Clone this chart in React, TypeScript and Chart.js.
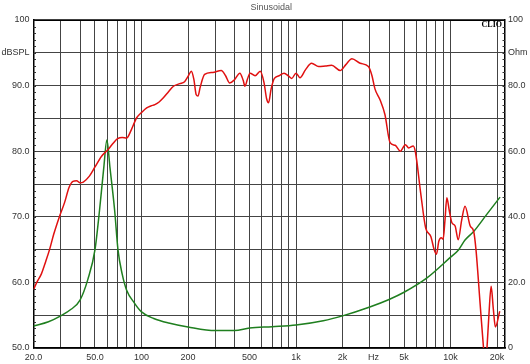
import React, { useEffect, useRef } from 'react';
import { Chart, registerables } from 'chart.js';

Chart.register(...registerables);

// SPL response (red, left axis dBSPL)
const splFreq = [20, 21, 22.5, 24, 25.4, 27, 29.5, 31.8, 34, 36, 38, 40, 42, 46, 50, 55, 61, 66, 70, 75, 80, 86, 93, 100, 108, 115, 122, 130, 138, 150, 161, 177, 190, 200, 210, 218, 226, 232, 240, 256, 289, 328, 350, 372, 400, 433, 455, 467, 485, 504, 543, 587, 620, 645, 664, 690, 724, 776, 836, 900, 938, 1000, 1060, 1150, 1260, 1400, 1550, 1700, 1930, 2100, 2300, 2600, 2940, 3100, 3240, 3500, 3760, 4060, 4380, 4730, 5100, 5360, 5730, 5930, 6400, 6900, 7450, 7830, 8100, 8400, 8700, 8950, 9200, 9460, 9800, 10200, 10700, 11200, 11800, 12400, 13400, 14100, 14600, 15500, 16400, 16800, 17200, 17700, 18300, 18900, 19500, 20800];
const splDb = [58.9, 60.0, 61.3, 63.2, 65.0, 67.3, 70.1, 72.2, 74.5, 75.4, 75.5, 75.2, 75.3, 76.2, 77.6, 79.2, 80.3, 81.3, 81.9, 82.1, 82.0, 83.3, 85.1, 85.9, 86.6, 86.9, 87.1, 87.5, 88.1, 89.1, 89.9, 90.3, 90.6, 91.4, 92.2, 91.0, 88.6, 88.4, 89.8, 91.7, 92.0, 92.3, 91.5, 90.4, 90.9, 91.9, 90.8, 89.9, 91.0, 91.9, 91.5, 92.2, 90.5, 88.0, 87.4, 89.5, 91.1, 91.5, 91.9, 91.4, 91.1, 91.9, 91.2, 92.4, 93.4, 92.9, 93.0, 93.1, 92.3, 93.2, 94.1, 93.4, 92.9, 91.5, 89.5, 87.8, 85.6, 81.3, 80.9, 80.0, 81.0, 80.5, 80.8, 79.8, 73.7, 68.3, 67.0, 65.0, 64.3, 66.3, 66.8, 66.6, 69.5, 72.9, 71.0, 69.1, 68.6, 66.5, 69.5, 71.6, 68.6, 67.8, 65.0, 57.0, 49.5, 47.0, 50.0, 55.0, 59.4, 56.0, 53.2, 55.6];

// Impedance (green, right axis Ohm)
const impFreq = [20, 25, 30, 35, 40, 45, 50, 53.5, 57, 59.7, 62.5, 67, 70.4, 75, 80, 90, 100, 120, 150, 200, 300, 400, 500, 700, 1000, 1500, 2000, 3000, 4000, 5000, 7000, 10000, 11250, 12400, 14100, 17000, 20900];
const impOhm = [6.7, 8.0, 9.8, 11.8, 14.6, 21.0, 30.0, 42.0, 55.0, 63.4, 55.0, 42.0, 30.0, 22.5, 17.7, 13.7, 11.0, 9.0, 7.6, 6.4, 5.3, 5.3, 6.1, 6.5, 7.0, 8.3, 9.8, 12.5, 14.8, 17.0, 21.3, 27.7, 29.9, 32.9, 35.5, 40.5, 46.0];

const xGridValues = [20, 30, 40, 50, 60, 70, 80, 90, 100, 200, 300, 400, 500, 600, 700, 800, 900, 1000, 2000, 3000, 4000, 5000, 6000, 7000, 8000, 9000, 10000, 20000];
const xLabelValues = [20, 50, 100, 200, 500, 1000, 2000, 5000, 10000, 20000];
const xLabelTexts = ['20.0', '50.0', '100', '200', '500', '1k', '2k', '5k', '10k', '20k'];
const hzLabelFreq = 3170;

const leftTickValues = [50, 55, 60, 65, 70, 75, 80, 85, 90, 95, 100];
const leftLabelTexts = ['50.0', '', '60.0', '', '70.0', '', '80.0', '', '90.0', 'dBSPL', '100'];
const rightTickValues = [0, 10, 20, 30, 40, 50, 60, 70, 80, 90, 100];
const rightLabelTexts = ['0', '', '20.0', '', '40.0', '', '60.0', '', '80.0', 'Ohm', '100'];

const FONT = 'Liberation Sans, Arial, sans-serif';

const decorPlugin = {
  id: 'decor',
  afterDraw(chart: any) {
    const { ctx, chartArea } = chart;
    const y = chart.scales.y;
    const y1 = chart.scales.y1;
    ctx.save();
    // minor ticks inside plot
    ctx.strokeStyle = '#333';
    ctx.lineWidth = 1;
    ctx.beginPath();
    for (let v = 50; v <= 100; v += 1) {
      const py = Math.round(y.getPixelForValue(v)) + 0.5;
      ctx.moveTo(chartArea.left, py);
      ctx.lineTo(chartArea.left + 2.5, py);
    }
    for (let v = 0; v <= 100; v += 2) {
      const py = Math.round(y1.getPixelForValue(v)) + 0.5;
      ctx.moveTo(chartArea.right, py);
      ctx.lineTo(chartArea.right - 2.5, py);
    }
    ctx.stroke();
    // top frame
    ctx.strokeStyle = '#000';
    ctx.lineWidth = 1.5;
    ctx.beginPath();
    ctx.moveTo(chartArea.left, chartArea.top);
    ctx.lineTo(chartArea.right, chartArea.top);
    ctx.stroke();
    // title
    ctx.fillStyle = '#555';
    ctx.font = '9px ' + FONT;
    ctx.textAlign = 'center';
    ctx.textBaseline = 'middle';
    ctx.fillText('Sinusoidal', (chartArea.left + chartArea.right) / 2 + 2, 8);
    // CLIO
    ctx.fillStyle = '#000';
    ctx.font = 'bold 8px Liberation Serif, Times New Roman, serif';
    ctx.textAlign = 'right';
    ctx.textBaseline = 'alphabetic';
    ctx.fillText('CLIO', chartArea.right - 3, chartArea.top + 7);
    ctx.restore();
  },
};

export default function App() {
  const ref = useRef<HTMLCanvasElement | null>(null);

  useEffect(() => {
    if (!ref.current) return;
    const chart = new Chart(ref.current, {
      type: 'line',
      data: {
        datasets: [
          {
            label: 'SPL',
            data: splFreq.map((f, i) => ({ x: f, y: splDb[i] })),
            yAxisID: 'y',
            borderColor: '#e01010',
            borderWidth: 1.5,
            pointRadius: 0,
            cubicInterpolationMode: 'monotone',
            fill: false,
          },
          {
            label: 'Impedance',
            data: impFreq.map((f, i) => ({ x: f, y: impOhm[i] })),
            yAxisID: 'y1',
            borderColor: '#1f7f1f',
            borderWidth: 1.5,
            pointRadius: 0,
            cubicInterpolationMode: 'monotone',
            fill: false,
          },
        ],
      },
      options: {
        animation: false,
        responsive: false,
        layout: { padding: { top: 20, left: 0, right: 0, bottom: 0 } },
        plugins: {
          legend: { display: false },
          tooltip: { enabled: false },
          title: { display: false },
        },
        scales: {
          x: {
            type: 'logarithmic',
            min: 20,
            max: 22500,
            afterBuildTicks: (s: any) => {
              s.ticks = [...xGridValues, hzLabelFreq].sort((a, b) => a - b).map((v) => ({ value: v }));
            },
            afterFit: (s: any) => {
              s.height = 16;
            },
            ticks: {
              autoSkip: false,
              maxRotation: 0,
              minRotation: 0,
              padding: 4,
              color: '#333',
              font: { family: FONT, size: 9 },
              callback: (v: any) => {
                const n = Number(v);
                if (n === hzLabelFreq) return 'Hz';
                const i = xLabelValues.indexOf(n);
                return i >= 0 ? xLabelTexts[i] : '';
              },
            },
            grid: {
              color: (c: any) => (c.tick && c.tick.value === hzLabelFreq ? 'rgba(0,0,0,0)' : '#444'),
              lineWidth: 1,
              drawTicks: false,
            },
            border: { color: '#000', width: 1.5 },
          },
          y: {
            type: 'linear',
            position: 'left',
            min: 50,
            max: 100,
            afterBuildTicks: (s: any) => {
              s.ticks = leftTickValues.map((v) => ({ value: v }));
            },
            afterFit: (s: any) => {
              s.width = 33.5;
            },
            ticks: {
              autoSkip: false,
              padding: 4,
              color: '#333',
              font: { family: FONT, size: 9 },
              callback: (v: any) => {
                const i = leftTickValues.indexOf(Number(v));
                return i >= 0 ? leftLabelTexts[i] : '';
              },
            },
            grid: {
              color: (c: any) => (c.tick && c.tick.value === 100 ? '#000' : '#444'),
              lineWidth: 1,
              drawTicks: false,
            },
            border: { color: '#000', width: 1.5 },
          },
          y1: {
            type: 'linear',
            position: 'right',
            min: 0,
            max: 100,
            afterBuildTicks: (s: any) => {
              s.ticks = rightTickValues.map((v) => ({ value: v }));
            },
            afterFit: (s: any) => {
              s.width = 25;
            },
            ticks: {
              autoSkip: false,
              padding: 3,
              color: '#333',
              font: { family: FONT, size: 9 },
              callback: (v: any) => {
                const i = rightTickValues.indexOf(Number(v));
                return i >= 0 ? rightLabelTexts[i] : '';
              },
            },
            grid: { display: false, drawTicks: false },
            border: { display: true, color: '#000', width: 1.5 },
          },
        },
      },
      plugins: [decorPlugin],
    } as any);
    return () => chart.destroy();
  }, []);

  return (
    <div style={{ position: 'absolute', left: 0, top: 0, width: 530, height: 364, background: '#fff' }}>
      <canvas ref={ref} width={530} height={364} style={{ display: 'block', width: 530, height: 364 }} />
    </div>
  );
}
